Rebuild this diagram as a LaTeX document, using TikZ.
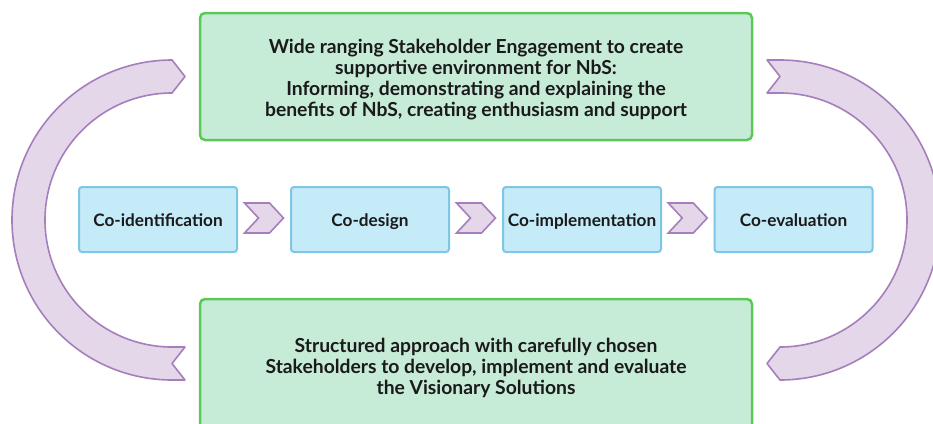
\documentclass[tikz,border=0pt]{standalone}
\usepackage{fontspec}
\setmainfont{Lato}
\usetikzlibrary{shapes.symbols,calc}
\definecolor{purplefill}{HTML}{E4D7EA}
\definecolor{purpleline}{HTML}{A67EBB}
\definecolor{greenfill}{HTML}{C6EBD7}
\definecolor{greenline}{HTML}{5CC858}
\definecolor{bluefill}{HTML}{C6EBF8}
\definecolor{blueline}{HTML}{7EC6E4}
\definecolor{ink}{HTML}{1A1A1A}
\begin{document}
\begin{tikzpicture}[x=1pt,y=-1pt,
  greenbox/.style={draw=greenline, fill=greenfill, line width=2.5pt, rounded corners=5pt,
    minimum width=552pt},
  boxtext/.style={align=center, text=ink, inner sep=0pt,
    font=\fontsize{19.3}{21}\selectfont\bfseries},
  stagebox/.style={draw=blueline, fill=bluefill, line width=2pt, rounded corners=3pt,
    minimum width=158pt, minimum height=65pt, text height=14pt, text depth=0pt,
    text=ink, font=\fontsize{17.2}{20}\selectfont\bfseries},
  chevron/.style={signal, signal from=west, signal to=east, signal pointer angle=94,
    draw=purpleline, fill=purplefill, line width=1.6pt, minimum width=39pt, minimum height=30pt,
    inner sep=0pt},
  bandarrow/.style={draw=purpleline, fill=purplefill, line width=1.6pt, line join=round}]
\useasboundingbox (0,0) rectangle (933,423);
\clip (0,0) rectangle (933,423);

% engagement boxes
\node[greenbox, minimum height=127pt] (top) at (476,76.5) {};
\node[boxtext] (toptext) at ($(top.center)+(0,3.5)$)
  {Wide ranging Stakeholder Engagement to create\\
   supportive environment for NbS:\\
   Informing, demonstrating and explaining the\\
   benefits of NbS, creating enthusiasm and support};
\node[greenbox, minimum height=134pt] (bottom) at (476,366) {};
\node[boxtext] (bottomtext) at ($(bottom.center)+(0,2)$)
  {Structured approach with carefully chosen\\
   Stakeholders to develop, implement and evaluate\\
   the Visionary Solutions};

% co-creation stages
\node[stagebox] (s1) at (158,219.5) {Co-identification};
\node[stagebox] (s2) at (370,219.5) {Co-design};
\node[stagebox] (s3) at (582,219.5) {Co-implementation};
\node[stagebox] (s4) at (793.5,219.5) {Co-evaluation};

\foreach \a/\b in {s1/s2, s2/s3, s3/s4}
  \node[chevron] (\a-\b) at ($(\a.east)!0.5!(\b.west)+(0,-1.5)$) {};

% curved band arrows linking the two engagement levels
\coordinate (lc) at (172,220);
\coordinate (rc) at (780,220);
\draw[bandarrow] ($(lc)+(0,-160)$) -- ($(lc)+(13,-143.5)$) -- ($(lc)+(0,-127)$)
  arc[start angle=270, end angle=90, radius=127]
  -- ($(lc)+(13,127)$) -- ($(lc)+(0,143.5)$) -- ($(lc)+(13,160)$) -- ($(lc)+(0,160)$)
  arc[start angle=90, end angle=270, radius=160] -- cycle;
\draw[bandarrow] ($(rc)+(-13,-160)$) -- ($(rc)+(0,-143.5)$) -- ($(rc)+(-13,-127)$) -- ($(rc)+(0,-127)$)
  arc[start angle=270, end angle=450, radius=127]
  -- ($(rc)+(-13,143.5)$) -- ($(rc)+(0,160)$)
  arc[start angle=90, end angle=-90, radius=160] -- cycle;
\end{tikzpicture}
\end{document}
